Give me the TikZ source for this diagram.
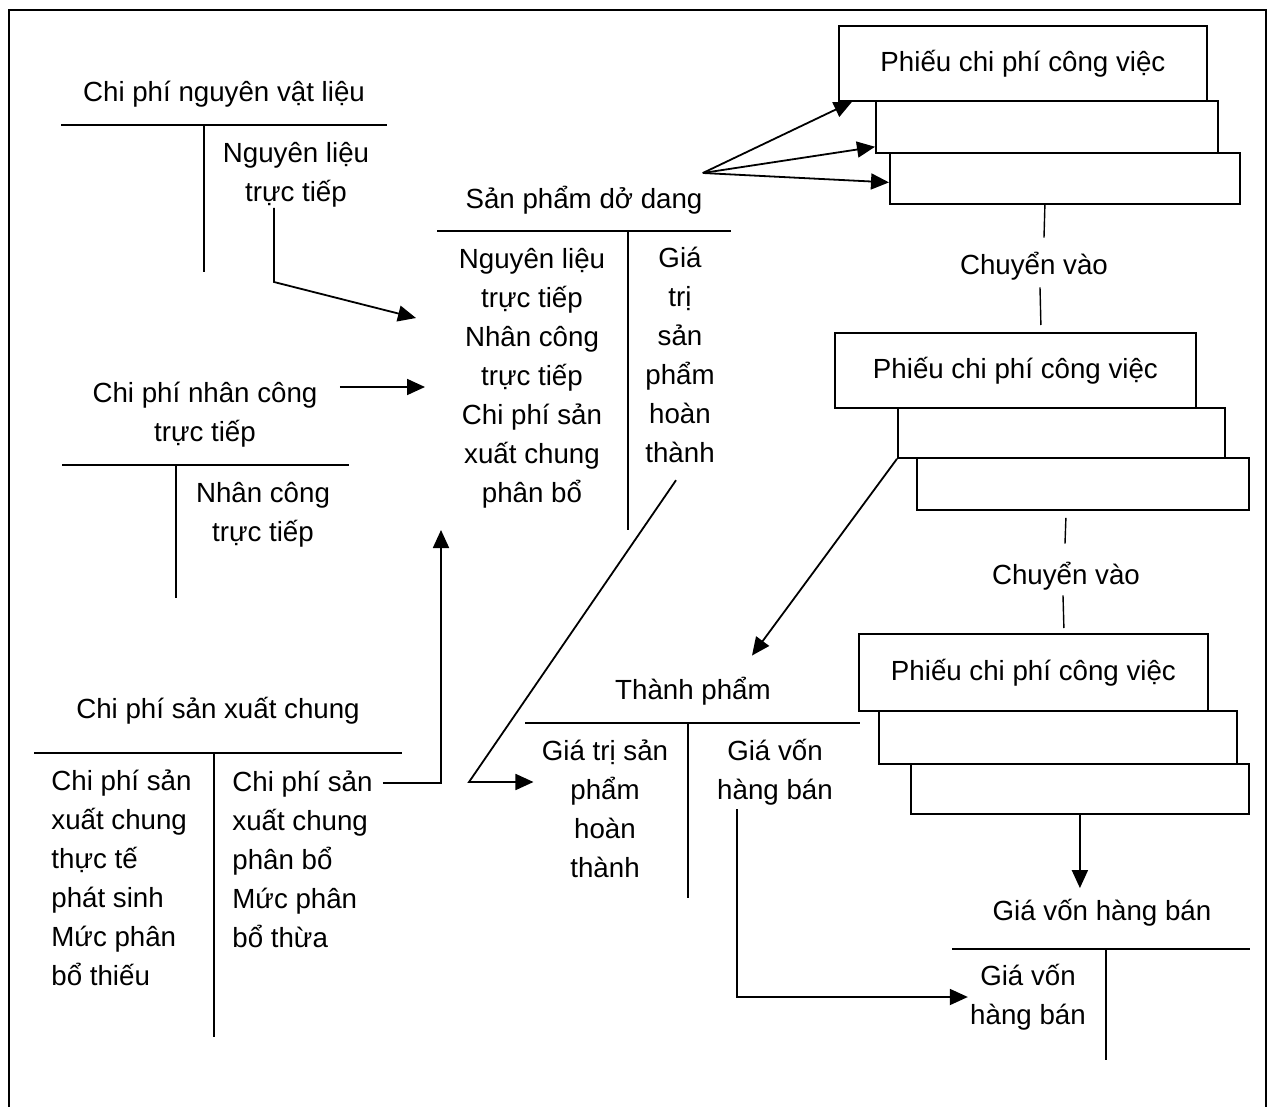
\documentclass[tikz,border=0pt]{standalone}
\usepackage{fontspec}
\setmainfont{Liberation Sans}
\usetikzlibrary{arrows.meta, positioning}

\begin{document}
\begin{tikzpicture}[
  x=0.5pt, y=-0.5pt,
  txt/.style={font=\fontsize{13.85pt}{19.5pt}\selectfont, inner sep=0pt, align=center},
  col/.style={txt, align=left, anchor=west},
  card/.style={txt, draw, line width=0.9pt, anchor=north west},
  tline/.style={line width=0.7pt},
  arr/.style={-{Triangle[length=9pt, width=8pt]}, line width=0.9pt}
]
  \useasboundingbox (0,0) rectangle (1269,1107);
  % frame, open at the bottom
  \draw[tline] (9,1107) -- (9,10) -- (1266,10) -- (1266,1107);

  % Chi phi nguyen vat lieu
  \node[txt] (nvlt)  at (224,94)  {Chi phí nguyên vật liệu};
  \node[txt] (nvlcr) at (296,175) {Nguyên liệu\\trực tiếp};
  \draw[tline] (61,125) -- (387,125) (204,125) -- (204,272);

  % Chi phi nhan cong truc tiep
  \node[txt] (nct)  at (205,415) {Chi phí nhân công\\trực tiếp};
  \node[txt] (nccr) at (263,515) {Nhân công\\trực tiếp};
  \draw[tline] (62,465) -- (349,465) (176,465) -- (176,598);

  % Chi phi san xuat chung
  \node[txt] (sxct)  at (218,711) {Chi phí sản xuất chung};
  \node[col] (sxcdr) at (51,878)  {Chi phí sản\\xuất chung\\thực tế\\phát sinh\\Mức phân\\bổ thiếu};
  \node[col] (sxccr) at (232,859) {Chi phí sản\\xuất chung\\phân bổ\\Mức phân\\bổ thừa};
  \draw[tline] (34,753) -- (402,753) (214,753) -- (214,1037);

  % San pham do dang
  \node[txt] (ddt)  at (584,200) {Sản phẩm dở dang};
  \node[txt] (dddr) at (532,378) {Nguyên liệu\\trực tiếp\\Nhân công\\trực tiếp\\Chi phí sản\\xuất chung\\phân bổ};
  \node[txt] (ddcr) at (680,355) {Giá\\trị\\sản\\phẩm\\hoàn\\thành};
  \draw[tline] (437,231) -- (731,231) (628,231) -- (628,530);

  % Thanh pham
  \node[txt] (tpt)  at (693,691) {Thành phẩm};
  \node[txt] (tpdr) at (605,809) {Giá trị sản\\phẩm\\hoàn\\thành};
  \node[txt] (tpcr) at (775,772) {Giá vốn\\hàng bán};
  \draw[tline] (525,723) -- (860,723) (688,723) -- (688,898);

  % Gia von hang ban
  \node[txt] (gvt)  at (1102,913) {Giá vốn hàng bán};
  \node[txt] (gvcr) at (1028,997) {Giá vốn\\hàng bán};
  \draw[tline] (952,949) -- (1250,949) (1106,949) -- (1106,1060);

  % Phieu chi phi cong viec, three stacks
  \node[card, minimum width=184pt, minimum height=37.5pt] (a1) at (838,25) {Phiếu chi phí công việc};
  \node[card, minimum width=171pt, minimum height=26pt]   (b1) at (875,100) {};
  \node[card, minimum width=175pt, minimum height=25.5pt] (c1) at (889,152) {};
  \node[txt] (cv1) at (1034,266) {Chuyển vào};

  \node[card, minimum width=180.5pt, minimum height=37.5pt] (a2) at (834,332) {Phiếu chi phí công việc};
  \node[card, minimum width=163.5pt, minimum height=25pt]   (b2) at (897,407) {};
  \node[card, minimum width=166pt,   minimum height=26pt]   (c2) at (916,457) {};
  \node[txt] (cv2) at (1066,576) {Chuyển vào};

  \node[card, minimum width=174.5pt, minimum height=38.5pt] (a3) at (858,633) {Phiếu chi phí công việc};
  \node[card, minimum width=179pt,   minimum height=26.5pt] (b3) at (878,710) {};
  \node[card, minimum width=169pt,   minimum height=25pt]   (c3) at (910,763) {};

  \draw[tline] ([xshift=-10pt]c1.south) -- ([xshift=5pt,yshift=7pt]cv1.north);
  \draw[tline] ([xshift=3pt,yshift=-3.5pt]cv1.south) -- ([xshift=12.75pt,yshift=3.5pt]a2.north);
  \draw[tline] ([xshift=-8.5pt,yshift=-3.5pt]c2.south) -- ([xshift=-0.5pt,yshift=9pt]cv2.north);
  \draw[tline] ([xshift=-1.5pt,yshift=-2.5pt]cv2.south) -- ([xshift=15.25pt,yshift=2.5pt]a3.north);

  % flows
  \coordinate (k1)  at (274,282);
  \coordinate (in1) at (416,318);
  \coordinate (in2) at (425,387);
  \coordinate (in3) at (441,530);
  \coordinate (k4)  at (469,782);

  \draw[arr] ([xshift=-11pt]nvlcr.south) -- (k1) -- (in1);
  \draw[arr] ([xshift=11pt,yshift=14pt]nct.east) -- (in2);
  \draw[arr] ([xshift=5pt,yshift=38pt]sxccr.east) -| (in3);
  \draw[arr] ([xshift=-2pt,yshift=-8.5pt]ddcr.south) -- (k4) -- ([xshift=-4pt,yshift=13.5pt]tpdr.west);

  \draw[arr] ([yshift=13.5pt]ddt.east) -- ([xshift=7pt]a1.south west);
  \draw[arr] ([yshift=13.5pt]ddt.east) -- ([yshift=3.5pt]b1.south west);
  \draw[arr] ([yshift=13.5pt]ddt.east) -- ([yshift=-2pt]c1.west);

  \draw[arr] (b2.south west) -- ([xshift=29.5pt,yshift=10.5pt]tpt.north);
  \draw[arr, shorten >=5.5pt] (c3.south) -- (c3.south |- gvt.north);
  \draw[arr] ([xshift=-19pt,yshift=-2pt]tpcr.south) |- ([xshift=-1pt]gvcr.west);
\end{tikzpicture}
\end{document}
